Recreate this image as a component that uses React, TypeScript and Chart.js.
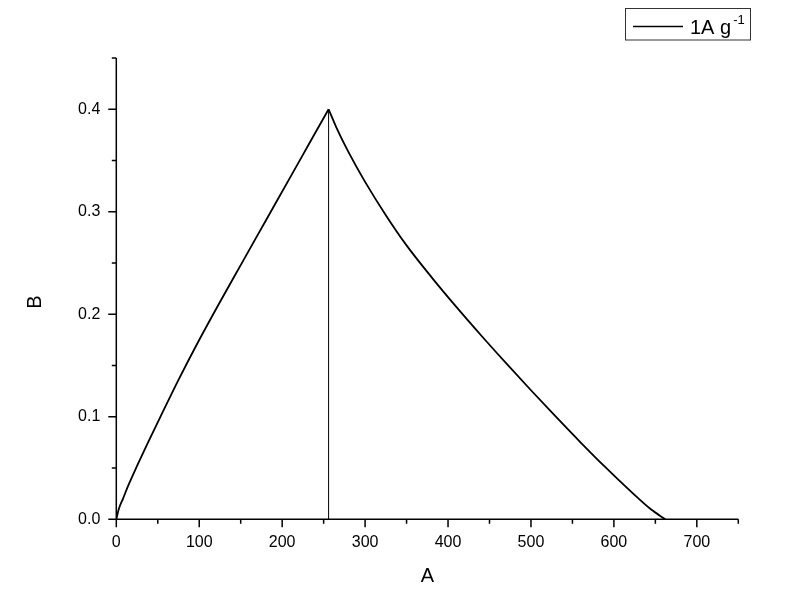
import React, { useEffect, useRef } from "react";
import { Chart, registerables } from "chart.js";

Chart.register(...registerables);

// Charge branch
const chargeX = [0, 3, 8, 15, 25, 38, 52, 75, 98, 125, 150, 180, 210, 235, 256];
const chargeY = [0, 0.01, 0.02, 0.034, 0.052, 0.0745, 0.098, 0.136, 0.172, 0.212, 0.248, 0.291, 0.334, 0.37, 0.4];
// Discharge branch
const dischargeX = [256, 265, 280, 300, 325, 350, 380, 410, 440, 470, 500, 530, 560, 590, 620, 645, 662];
const dischargeY = [0.4, 0.3829, 0.3582, 0.3292, 0.2967, 0.2672, 0.2363, 0.2072, 0.1793, 0.1523, 0.1259, 0.1001, 0.0749, 0.0506, 0.0275, 0.0095, 0];
// Vertical marker
const markerX = [256, 256];
const markerY = [0, 0.4];

const xMajorTicks = [0, 100, 200, 300, 400, 500, 600, 700];
const xMinorTicks = [50, 150, 250, 350, 450, 550, 650, 750];
const yMajorTicks = [0, 0.1, 0.2, 0.3, 0.4];
const yMinorTicks = [0.05, 0.15, 0.25, 0.35, 0.45];

const seriesLabel = "1A g";
const seriesLabelSup = "-1";
const xTitle = "A";
const yTitle = "B";

const FONT = "Arial, 'Liberation Sans', sans-serif";

const zip = (xs: number[], ys: number[]) => xs.map((x, i) => ({ x, y: ys[i] }));

const decorPlugin = {
  id: "decor",
  afterDraw(chart: any) {
    const ctx = chart.ctx as CanvasRenderingContext2D;
    const xs = chart.scales.x;
    const ys = chart.scales.y;
    const area = chart.chartArea;
    ctx.save();
    ctx.strokeStyle = "#000";
    ctx.lineWidth = 1.5;
    // axis lines
    ctx.beginPath();
    ctx.moveTo(area.left, area.bottom);
    ctx.lineTo(area.right, area.bottom);
    ctx.moveTo(area.left, area.bottom);
    ctx.lineTo(area.left, area.top);
    ctx.stroke();
    // ticks
    ctx.beginPath();
    xMajorTicks.forEach((v) => {
      const p = xs.getPixelForValue(v);
      ctx.moveTo(p, area.bottom);
      ctx.lineTo(p, area.bottom + 8);
    });
    xMinorTicks.forEach((v) => {
      const p = xs.getPixelForValue(v);
      ctx.moveTo(p, area.bottom);
      ctx.lineTo(p, area.bottom + 4.5);
    });
    yMajorTicks.forEach((v) => {
      const p = ys.getPixelForValue(v);
      ctx.moveTo(area.left, p);
      ctx.lineTo(area.left - 8, p);
    });
    yMinorTicks.forEach((v) => {
      const p = ys.getPixelForValue(v);
      ctx.moveTo(area.left, p);
      ctx.lineTo(area.left - 4.5, p);
    });
    ctx.stroke();

    // axis titles
    ctx.fillStyle = "#000";
    ctx.font = `20px ${FONT}`;
    ctx.textAlign = "center";
    ctx.textBaseline = "middle";
    ctx.fillText(xTitle, (area.left + area.right) / 2, 576);
    ctx.save();
    ctx.translate(35, 302);
    ctx.rotate(-Math.PI / 2);
    ctx.fillText(yTitle, 0, 0);
    ctx.restore();

    // legend box
    ctx.lineWidth = 1;
    ctx.strokeStyle = "#333";
    ctx.strokeRect(625.5, 8.5, 125, 31.5);
    ctx.strokeStyle = "#000";
    ctx.lineWidth = 1.5;
    ctx.beginPath();
    ctx.moveTo(633, 26.5);
    ctx.lineTo(683, 26.5);
    ctx.stroke();
    ctx.textAlign = "left";
    ctx.textBaseline = "alphabetic";
    ctx.font = `20px ${FONT}`;
    ctx.fillText(seriesLabel, 690, 34);
    const w = ctx.measureText(seriesLabel).width;
    ctx.font = `13px ${FONT}`;
    ctx.fillText(seriesLabelSup, 690 + w + 2, 24);
    ctx.restore();
  },
};

export default function App() {
  const ref = useRef<HTMLCanvasElement | null>(null);
  useEffect(() => {
    document.body.style.margin = "0";
    const canvas = ref.current!;
    const lineCommon = {
      borderColor: "#000",
      pointRadius: 0,
      showLine: true,
      fill: false,
      cubicInterpolationMode: "monotone" as const,
    };
    const chart = new Chart(canvas, {
      type: "scatter",
      data: {
        datasets: [
          { ...lineCommon, label: "charge", data: zip(chargeX, chargeY), borderWidth: 1.8 },
          { ...lineCommon, label: "discharge", data: zip(dischargeX, dischargeY), borderWidth: 1.8 },
          { ...lineCommon, label: "marker", data: zip(markerX, markerY), borderWidth: 1, cubicInterpolationMode: "default" as const },
        ],
      },
      options: {
        responsive: false,
        animation: false,
        layout: { padding: { left: 0, top: 58, right: 61.7, bottom: 0 } },
        plugins: { legend: { display: false }, tooltip: { enabled: false } },
        scales: {
          x: {
            type: "linear",
            min: 0,
            max: 750,
            grid: { display: false, drawTicks: false },
            border: { display: false },
            afterFit: (s: any) => {
              s.height = 595 - 519.3;
            },
            afterBuildTicks: (s: any) => {
              s.ticks = xMajorTicks.map((v) => ({ value: v }));
            },
            ticks: {
              color: "#000",
              font: { family: FONT, size: 16 },
              padding: 14,
              maxRotation: 0,
              callback: (v: any) => String(v),
            },
          },
          y: {
            type: "linear",
            min: 0,
            max: 0.45,
            grid: { display: false, drawTicks: false },
            border: { display: false },
            afterFit: (s: any) => {
              s.width = 116.3;
            },
            afterBuildTicks: (s: any) => {
              s.ticks = yMajorTicks.map((v) => ({ value: v }));
            },
            ticks: {
              color: "#000",
              font: { family: FONT, size: 16 },
              padding: 16,
              callback: (v: any) => Number(v).toFixed(1),
            },
          },
        },
      },
      plugins: [decorPlugin],
    });
    return () => chart.destroy();
  }, []);
  return (
    <div style={{ width: 800, height: 595 }}>
      <canvas ref={ref} width={800} height={595} />
    </div>
  );
}
